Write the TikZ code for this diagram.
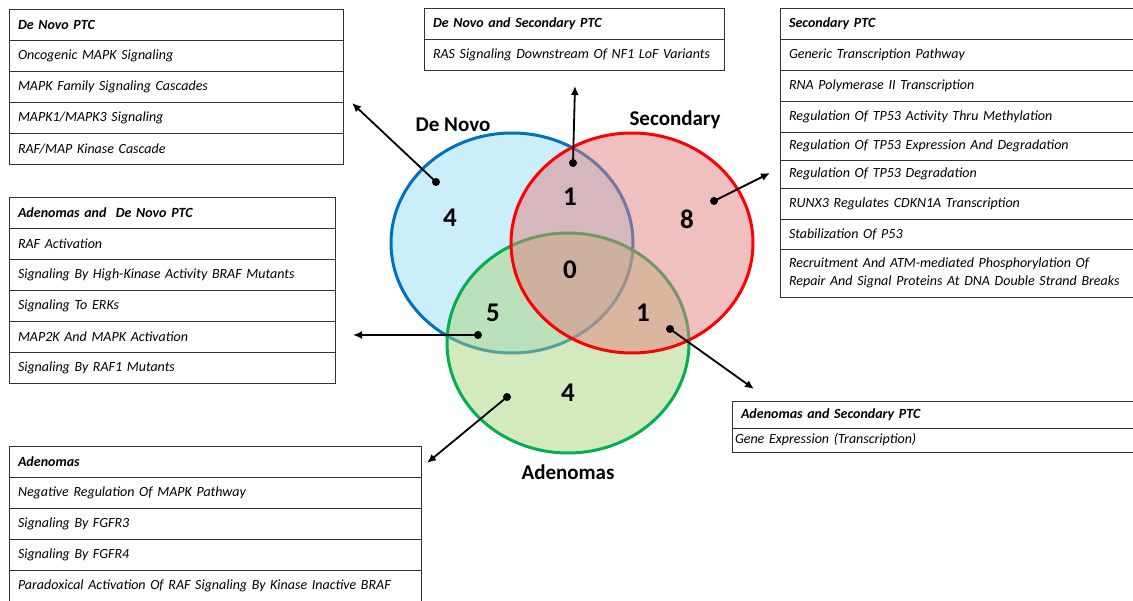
\documentclass[tikz,border=0pt]{standalone}
\usepackage{fontspec}
\setmainfont{Carlito}
\usepackage{tikz}
\usetikzlibrary{arrows.meta,positioning}
\definecolor{DNblue}{HTML}{0070C0}
\definecolor{DNfill}{HTML}{99DDF5}
\definecolor{SCred}{HTML}{FF0000}
\definecolor{SCfill}{HTML}{E18181}
\definecolor{ADgreen}{HTML}{00B050}
\definecolor{ADfill}{HTML}{A9D57D}
\tikzset{
  cell/.style={draw=black!80,line width=0.9pt,outer sep=0pt,inner xsep=9pt,inner ysep=0pt,
    minimum height=31pt,text width=#1,align=left,font=\fontsize{14}{18}\selectfont\itshape},
  headcell/.style={cell=#1,font=\fontsize{14}{18}\selectfont\bfseries\itshape},
  setline/.style={line width=3pt,fill opacity=0.5},
  count/.style={font=\fontsize{27}{30}\selectfont\bfseries},
  setname/.style={font=\fontsize{21}{24}\selectfont\bfseries},
  pin/.style={circle,fill=black,inner sep=0pt,minimum size=8pt},
  link/.style={line width=1.8pt,-{Latex[length=9pt,width=8pt]}}
}

\begin{document}
\begin{tikzpicture}[x=1pt,y=-1pt]
  \useasboundingbox (0,0) rectangle (1133,601);

  % Venn sets
  \draw[setline,draw=DNblue,fill=DNfill] (512,243) ellipse [x radius=121pt,y radius=110pt];
  \draw[setline,draw=ADgreen,fill=ADfill] (568,343) ellipse [x radius=121pt,y radius=110pt];
  \draw[setline,draw=SCred,fill=SCfill] (632,243) ellipse [x radius=121pt,y radius=110pt];

  \node[setname] (dnname) at (453,125) {De Novo};
  \node[setname] (scname) at (675,120) {Secondary};
  \node[setname] (adname) at (568,472) {Adenomas};

  \node[count] (dnonly) at (450,218) {4};
  \node[count] (dnsc) at (570,197) {1};
  \node[count] (sconly) at (687,219) {8};
  \node[count] (all) at (570,270) {0};
  \node[count] (addn) at (493,313) {5};
  \node[count] (adsc) at (643,313) {1};
  \node[count] (adonly) at (568,393) {4};

  % De Novo PTC
  \node[headcell=316pt,anchor=north west] (dn0) at (9,9) {De Novo PTC};
  \node[cell=316pt,below=0pt of dn0] (dn1) {Oncogenic MAPK Signaling};
  \node[cell=316pt,below=0pt of dn1] (dn2) {MAPK Family Signaling Cascades};
  \node[cell=316pt,below=0pt of dn2] (dn3) {MAPK1/MAPK3 Signaling};
  \node[cell=316pt,below=0pt of dn3] (dn4) {RAF/MAP Kinase Cascade};

  % Adenomas and De Novo PTC
  \node[headcell=308pt,anchor=north west] (ad0) at (9,197) {Adenomas and\ \ De Novo PTC};
  \node[cell=308pt,below=0pt of ad0] (ad1) {RAF Activation};
  \node[cell=308pt,below=0pt of ad1] (ad2) {Signaling By High-Kinase Activity BRAF Mutants};
  \node[cell=308pt,below=0pt of ad2] (ad3) {Signaling To ERKs};
  \node[cell=308pt,below=0pt of ad3] (ad4) {MAP2K And MAPK Activation};
  \node[cell=308pt,below=0pt of ad4] (ad5) {Signaling By RAF1 Mutants};

  % Adenomas
  \node[headcell=394pt,anchor=north west] (am0) at (9,446) {Adenomas};
  \node[cell=394pt,below=0pt of am0] (am1) {Negative Regulation Of MAPK Pathway};
  \node[cell=394pt,below=0pt of am1] (am2) {Signaling By FGFR3};
  \node[cell=394pt,below=0pt of am2] (am3) {Signaling By FGFR4};
  \node[cell=394pt,below=0pt of am3,minimum height=32pt] (am4) {Paradoxical Activation Of RAF Signaling By Kinase Inactive BRAF};

  % De Novo and Secondary PTC
  \node[headcell=282pt,anchor=north west] (ds0) at (424,8) {De Novo and Secondary PTC};
  \node[cell=282pt,below=0pt of ds0] (ds1) {RAS Signaling Downstream Of NF1 LoF Variants};

  % Secondary PTC
  \node[headcell=382pt,anchor=north west] (sc0) at (780,8) {Secondary PTC};
  \node[cell=382pt,below=0pt of sc0] (sc1) {Generic Transcription Pathway};
  \node[cell=382pt,below=0pt of sc1] (sc2) {RNA Polymerase II Transcription};
  \node[cell=382pt,below=0pt of sc2] (sc3) {Regulation Of TP53 Activity Thru Methylation};
  \node[cell=382pt,below=0pt of sc3,minimum height=28pt] (sc4) {Regulation Of TP53 Expression And Degradation};
  \node[cell=382pt,below=0pt of sc4,minimum height=28pt] (sc5) {Regulation Of TP53 Degradation};
  \node[cell=382pt,below=0pt of sc5] (sc6) {RUNX3 Regulates CDKN1A Transcription};
  \node[cell=382pt,below=0pt of sc6,minimum height=30pt] (sc7) {Stabilization Of P53};
  \node[cell=382pt,below=0pt of sc7,minimum height=48pt] (sc8) {Recruitment And ATM-mediated Phosphorylation Of\\Repair And Signal Proteins At DNA Double Strand Breaks};

  % Adenomas and Secondary PTC
  \node[headcell=402pt,anchor=north west,minimum height=27pt] (as0) at (732,401) {Adenomas and Secondary PTC};
  \node[cell=414pt,below=0pt of as0,minimum height=24pt,inner xsep=3pt] (as1) {Gene Expression (Transcription)};

  % pointers
  \node[pin] (dnpin) at (436,182) {};
  \node[pin] (dscpin) at (573,163) {};
  \node[pin] (scpin) at (714,201) {};
  \node[pin] (adnpin) at (478,335) {};
  \node[pin] (ascpin) at (670,329) {};
  \node[pin] (adpin) at (507,397) {};
  \coordinate (dntip) at (352,103);
  \coordinate (dsctip) at (575,86);
  \coordinate (sctip) at (770,173);
  \coordinate (adntip) at (353,335);
  \coordinate (asctip) at (754,389);
  \coordinate (adtip) at (427,463);
  \draw[link] (dnpin.center) -- (dntip);
  \draw[link] (dscpin.center) -- (dsctip);
  \draw[link] (scpin.center) -- (sctip);
  \draw[link] (adnpin.center) -- (adntip);
  \draw[link] (ascpin.center) -- (asctip);
  \draw[link] (adpin.center) -- (adtip);
\end{tikzpicture}
\end{document}
